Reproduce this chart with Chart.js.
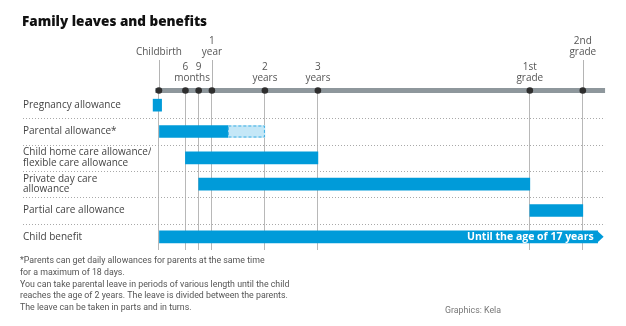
<!DOCTYPE html>
<html>
<head>
<meta charset="utf-8">
<script src="https://cdn.jsdelivr.net/npm/chart.js@4"></script>
<style>
	body{ margin:0; background:#fff; }
	canvas{ display:block; }
</style>
</head>
<body>
<canvas id="leaves" width="626" height="326"></canvas>
<script>
// rows of the timeline, top to bottom
var rowLabels = [
	'Pregnancy allowance',
	'Parental allowance*',
	['Child home care allowance/', 'flexible care allowance'],
	['Private day care', 'allowance'],
	'Partial care allowance',
	'Child benefit'
];

// child's age in years
var paidStart = [-0.11, 0, 0.5, 0.75, 7, 0];
var paidEnd = [0.05, 1.3, 3, 7, 8, 8.28];
var flexStart = [null, 1.3, null, null, null, null];
var flexEnd = [null, 2, null, null, null, null];

// milestones on the top timeline
var milestones = [0, 0.5, 0.75, 1, 2, 3, 7, 8];
var milestoneText = [['Childbirth'], ['6'], ['9'], ['1', 'year'], ['2', 'years'], ['3', 'years'], ['1st', 'grade'], ['2nd', 'grade']];
var milestoneHigh = [true, false, false, true, false, false, false, true];
var monthsText = 'months';

var benefitNote = 'Until the age of 17 years';
var titleText = 'Family leaves and benefits';
var footnote = [
	'*Parents can get daily allowances for parents at the same time',
	'for a maximum of 18 days.',
	'You can take parental leave in periods of various length until the child',
	'reaches the age of 2 years. The leave is divided between the parents.',
	'The leave can be taken in parts and in turns.'
];
var sourceText = 'Graphics: Kela';

var BLUE = '#009bd9';
var LIGHT = '#c4e7f7';
var FONT = '"Open Sans", "DejaVu Sans", sans-serif';
var NARROW = 'Roboto, "Liberation Sans", sans-serif';

var pairs = function(a, b){
	var out = [];
	for(var i = 0; i < a.length; i++){
		out.push(a[i] === null ? null : [a[i], b[i]]);
	}
	return out;
};

var timelinePlugin = {
	id: 'timeline',
	beforeDatasetsDraw: function(chart){
		var ctx = chart.ctx;
		var x = chart.scales.x;
		var y = chart.scales.y;
		var left = 23, right = x.getPixelForValue(8.42);

		// dotted row separators
		ctx.save();
		ctx.strokeStyle = '#a9a9a9';
		ctx.lineWidth = 1;
		ctx.setLineDash([1, 2]);
		for(var i = 0; i < rowLabels.length - 1; i++){
			var yy = Math.round((y.getPixelForValue(i) + y.getPixelForValue(i + 1)) / 2) + 0.5;
			ctx.beginPath();
			ctx.moveTo(left, yy);
			ctx.lineTo(right, yy);
			ctx.stroke();
		}
		ctx.restore();
	},
	afterDatasetsDraw: function(chart){
		var ctx = chart.ctx;
		var meta = chart.getDatasetMeta(0);
		var flex = chart.getDatasetMeta(1).data[1];

		// dashed outline of the flexible part of parental allowance
		ctx.save();
		ctx.strokeStyle = '#3aaee3';
		ctx.lineWidth = 1;
		ctx.setLineDash([3, 2]);
		ctx.strokeRect(flex.base + 0.5, flex.y - flex.height / 2 + 0.5, flex.x - flex.base - 1, flex.height - 1);
		ctx.restore();

		// arrow head and note on the child benefit bar
		var bar = meta.data[5];
		var h = bar.height;
		ctx.save();
		ctx.fillStyle = BLUE;
		ctx.beginPath();
		ctx.moveTo(bar.x - 0.5, bar.y - h / 2);
		ctx.lineTo(bar.x + 6, bar.y);
		ctx.lineTo(bar.x - 0.5, bar.y + h / 2);
		ctx.closePath();
		ctx.fill();
		ctx.fillStyle = '#fff';
		ctx.font = 'bold 10.5px ' + FONT;
		ctx.textAlign = 'right';
		ctx.textBaseline = 'middle';
		ctx.fillText(benefitNote, bar.x - 4, bar.y + 0.5);
		ctx.restore();
	},
	afterDraw: function(chart){
		var ctx = chart.ctx;
		var x = chart.scales.x;
		var barY = 90.5;

		ctx.save();

		// title
		ctx.fillStyle = '#111';
		ctx.font = '800 13.5px ' + FONT;
		ctx.textBaseline = 'middle';
		ctx.fillText(titleText, 22, 22);

		// lines up to the upper milestone labels
		ctx.strokeStyle = '#b4b4b4';
		ctx.lineWidth = 1;
		for(var i = 0; i < milestones.length; i++){
			if(!milestoneHigh[i]) continue;
			var px = Math.round(x.getPixelForValue(milestones[i])) + 0.5;
			ctx.beginPath();
			ctx.moveTo(px, 60);
			ctx.lineTo(px, barY);
			ctx.stroke();
		}

		// grey timeline with dots
		ctx.fillStyle = '#8e979c';
		ctx.fillRect(x.getPixelForValue(-0.07), barY - 2.5, x.getPixelForValue(8.42) - x.getPixelForValue(-0.07), 5);
		ctx.fillStyle = '#2e2e2e';
		for(var i = 0; i < milestones.length; i++){
			ctx.beginPath();
			ctx.arc(x.getPixelForValue(milestones[i]), barY, 3.3, 0, Math.PI * 2);
			ctx.fill();
		}

		// milestone labels, bottom line at 52 (upper) or 78 (lower)
		ctx.fillStyle = '#555';
		ctx.font = '10px ' + FONT;
		ctx.textAlign = 'center';
		ctx.textBaseline = 'middle';
		for(var i = 0; i < milestones.length; i++){
			var lines = milestoneText[i];
			var bottom = milestoneHigh[i] ? 52 : 78;
			if(lines.length == 1 && !milestoneHigh[i]) bottom = 67;
			for(var j = 0; j < lines.length; j++){
				ctx.fillText(lines[j], x.getPixelForValue(milestones[i]), bottom - (lines.length - 1 - j) * 10.5);
			}
		}
		ctx.fillText(monthsText, (x.getPixelForValue(0.5) + x.getPixelForValue(0.75)) / 2, 78);

		// footnote and source
		ctx.textAlign = 'left';
		ctx.font = '8.8px ' + NARROW;
		for(var i = 0; i < footnote.length; i++){
			ctx.fillText(footnote[i], 20, 261 + i * 11.7);
		}
		ctx.fillStyle = '#777';
		ctx.textAlign = 'right';
		ctx.fillText(sourceText, 501, 311);

		ctx.restore();
	}
};

new Chart(document.getElementById('leaves'), {
	type: 'bar',
	data: {
		labels: rowLabels,
		datasets: [
			{
				data: pairs(paidStart, paidEnd),
				backgroundColor: BLUE,
				borderWidth: 0,
				borderSkipped: false,
				barThickness: 12,
				grouped: false,
				order: 1
			},
			{
				data: pairs(flexStart, flexEnd),
				backgroundColor: LIGHT,
				borderWidth: 0,
				borderSkipped: false,
				barThickness: 12,
				grouped: false,
				order: 2
			}
		]
	},
	options: {
		indexAxis: 'y',
		responsive: false,
		animation: false,
		devicePixelRatio: 1,
		layout: {
			padding: {left: 23, top: 92, right: 22, bottom: 76}
		},
		plugins: {
			legend: {display: false},
			tooltip: {enabled: false}
		},
		scales: {
			x: {
				type: 'linear',
				min: -0.15,
				max: 8.4,
				afterBuildTicks: function(scale){
					scale.ticks = milestones.map(function(v){ return {value: v}; });
				},
				afterFit: function(scale){
					scale.height = 0;
				},
				ticks: {display: false},
				grid: {color: '#b8b8b8', lineWidth: 1, drawTicks: false},
				border: {display: false}
			},
			y: {
				type: 'category',
				afterFit: function(scale){
					scale.width = 128;
				},
				ticks: {
					crossAlign: 'far',
					padding: 0,
					color: '#444',
					font: {family: FONT, size: 10, lineHeight: 1.05}
				},
				grid: {display: false, drawTicks: false},
				border: {display: false}
			}
		}
	},
	plugins: [timelinePlugin]
});
</script>
</body>
</html>
